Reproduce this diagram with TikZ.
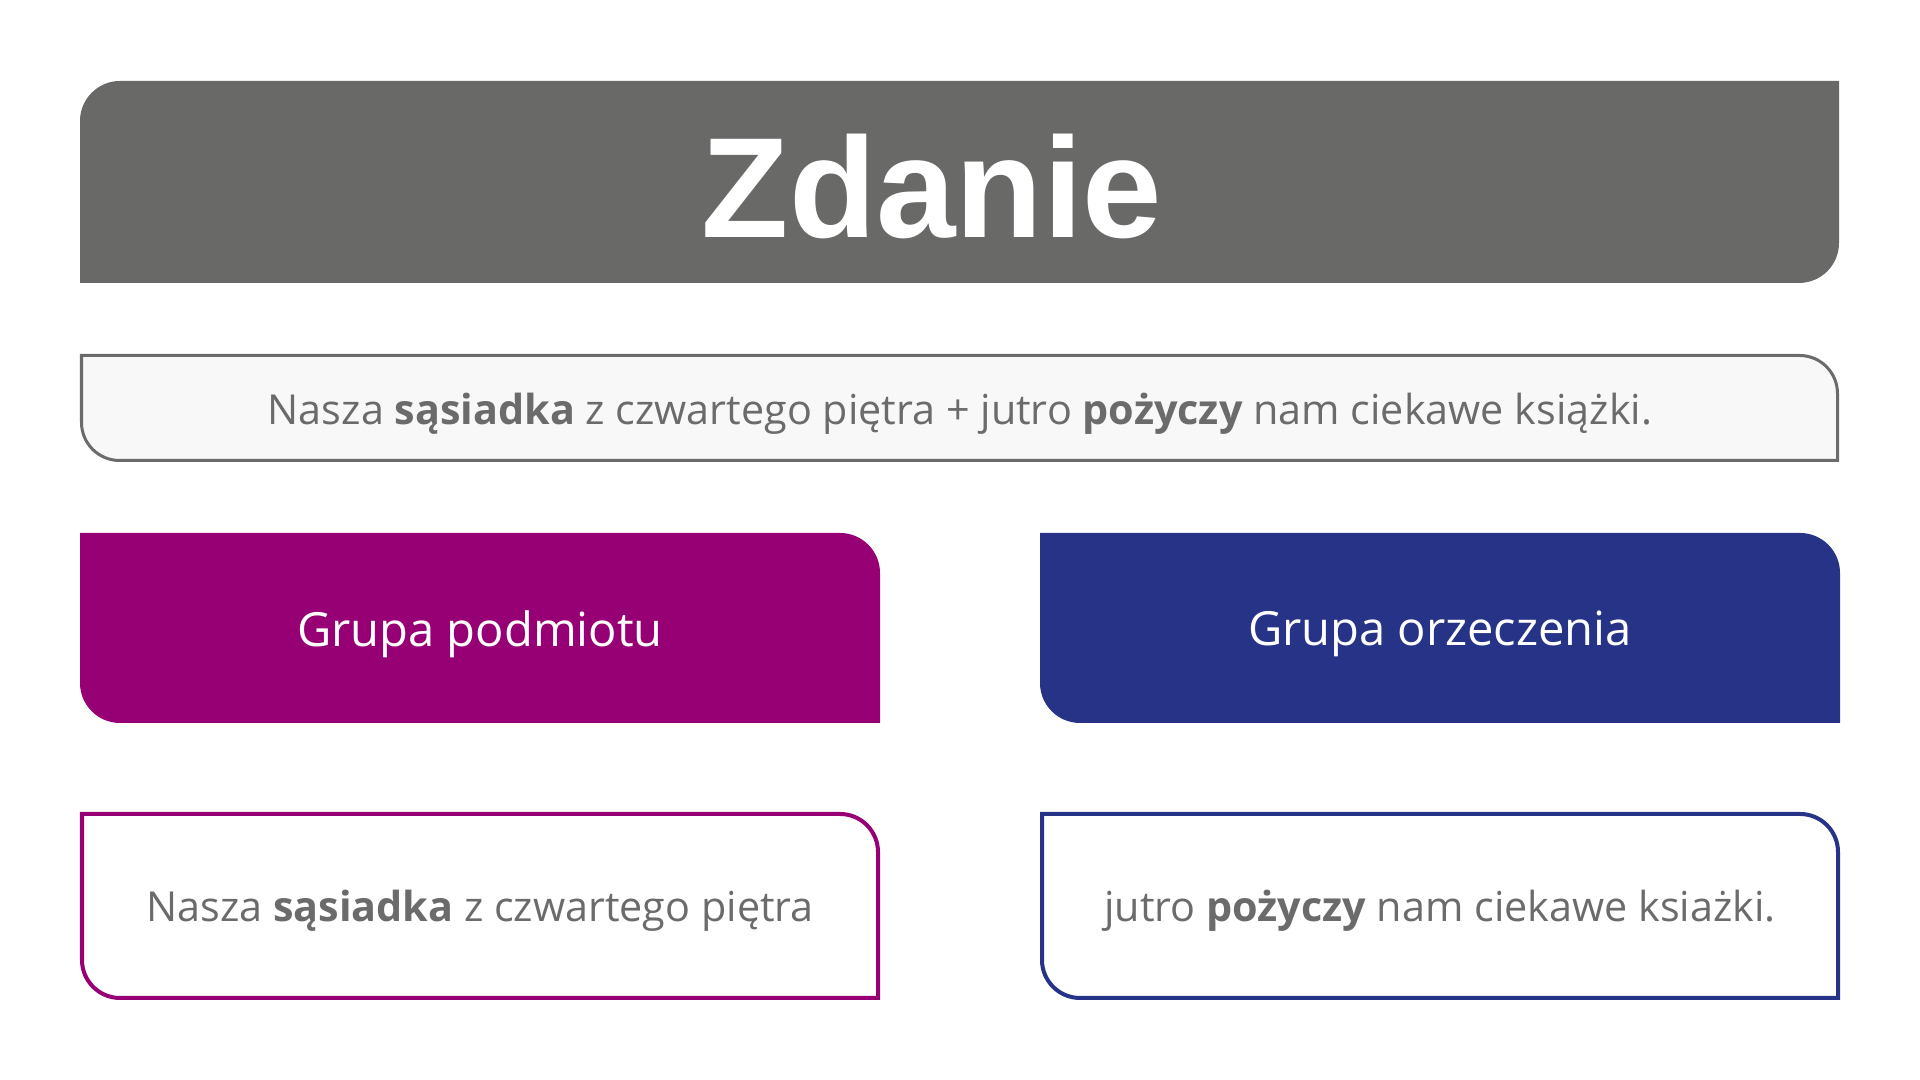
\documentclass[tikz,border=0pt]{standalone}
\usepackage{fontspec}
\setmainfont{Open Sans}
\newfontfamily\titlefont{Liberation Sans}
\usetikzlibrary{calc}

\definecolor{zgray}{HTML}{696968}
\definecolor{ztext}{HTML}{6B6B6B}
\definecolor{zfill}{HTML}{F8F8F8}
\definecolor{zpurple}{HTML}{970075}
\definecolor{znavy}{HTML}{263387}

\begin{document}
\begin{tikzpicture}[x=0.01cm,y=0.01cm,
	boxtext/.style={font=\fontsize{11.75}{14}\selectfont, text=ztext},
	grouptext/.style={font=\fontsize{13.4}{16}\selectfont, text=white}]
	\useasboundingbox (0,0) rectangle (1920,1080);

	% title bar
	\fill[zgray] (80,959) arc[start angle=180,end angle=90,radius=40] -- (1839,999) -- (1839,837) arc[start angle=0,end angle=-90,radius=40] -- (80,797) -- cycle;
	\node[font=\titlefont\bfseries\fontsize{40.6}{44}\selectfont, text=white] (zdanie) at (932,894) {Zdanie};

	% whole sentence
	\filldraw[fill=zfill,draw=ztext,line width=0.03cm] (81.5,724.5) -- (1799.5,724.5) arc[start angle=90,end angle=0,radius=38] -- (1837.5,619.5) -- (119.5,619.5) arc[start angle=270,end angle=180,radius=38] -- cycle;
	\node[boxtext] (sentence) at (960,666) {Nasza \textbf{sąsiadka} z czwartego piętra + jutro \textbf{pożyczy} nam ciekawe książki.};

	\foreach \col/\i in {zpurple/0,znavy/960}{
	\fill[\col] (80+\i,547) -- (840+\i,547) arc[start angle=90,end angle=0,radius=40] -- (880+\i,357) -- (120+\i,357) arc[start angle=270,end angle=180,radius=40] -- cycle;
	\filldraw[fill=white,draw=\col,line width=0.04cm] (82+\i,266) -- (840+\i,266) arc[start angle=90,end angle=0,radius=38] -- (878+\i,82) -- (120+\i,82) arc[start angle=270,end angle=180,radius=38] -- cycle;
	}

	\node[grouptext] (podmiot) at (480,446) {Grupa podmiotu};
	\node[grouptext] (orzeczenie) at (1440,446) {Grupa orzeczenia};
	\node[boxtext] (podmiotex) at (480,169) {Nasza \textbf{sąsiadka} z czwartego piętra};
	\node[boxtext] (orzeczenieex) at (1440,169) {jutro \textbf{pożyczy} nam ciekawe ksiażki.};
\end{tikzpicture}
\end{document}
